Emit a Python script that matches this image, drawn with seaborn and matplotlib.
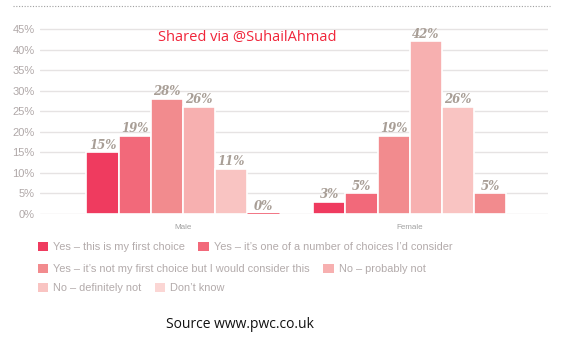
import matplotlib
matplotlib.use("Agg")
import matplotlib.pyplot as plt
import seaborn as sns
import pandas as pd
from matplotlib.patches import Patch
from matplotlib.lines import Line2D

categories = ["Male", "Female"]
responses = [
    "Yes \u2013 this is my first choice",
    "Yes \u2013 it\u2019s one of a number of choices I\u2019d consider",
    "Yes \u2013 it\u2019s not my first choice but I would consider this",
    "No \u2013 probably not",
    "No \u2013 definitely not",
    "Don\u2019t know",
]
male_values = [15, 19, 28, 26, 11, 0]
female_values = [3, 5, 19, 42, 26, 5]
colors = ["#ef3b5f", "#f2697a", "#f28b8e", "#f7b0b0", "#f9c4c2", "#fbd6d4"]
yticks = [0, 5, 10, 15, 20, 25, 30, 35, 40, 45]

df = pd.DataFrame({
    "sex": [c for c in categories for _ in responses],
    "response": responses * 2,
    "value": male_values + female_values,
})

sns.set_theme(style="white")
plt.rcParams["font.family"] = ["Liberation Sans", "DejaVu Sans"]

fig = plt.figure(figsize=(5.78, 3.48), dpi=100)
ax = fig.add_axes([40 / 578, (348 - 214) / 348, 508 / 578, (46 * 4.11) / 348])

sns.barplot(data=df, x="sex", y="value", hue="response", order=categories,
            hue_order=responses, palette=colors, saturation=1, width=0.85, ax=ax,
            edgecolor="white", linewidth=1.2, legend=False, zorder=3)

# per-bar colour tweaks seen in reference (Don't know bars)
dk = ax.containers[5]
for p in dk.patches:
    p.set_facecolor(colors[2])
dk.patches[0].set_edgecolor(colors[1])
dk.patches[0].set_linewidth(2)
dk.patches[0].set_zorder(5)

for i, cont in enumerate(ax.containers):
    vals = [male_values[i], female_values[i]]
    ax.bar_label(cont, labels=[f"{v}%" for v in vals], padding=0.5,
                 fontsize=8.5, fontweight="bold", fontstyle="italic",
                 family="DejaVu Serif", color="#a89e96")

ax.set_ylim(0, 46)
ax.set_xlim(-0.63, 1.61)
ax.set_yticks(yticks)
ax.set_yticklabels([f"{t}%" for t in yticks], color="#b0a8a8", fontsize=8)
ax.tick_params(axis="y", length=0, pad=4)
ax.tick_params(axis="x", length=0, pad=7, labelsize=5.8, labelcolor="#a0a0a0")
ax.set_xlabel("")
ax.set_ylabel("")
for s in ax.spines.values():
    s.set_visible(False)
ax.yaxis.grid(True, color="#e6e3e3", linewidth=1, zorder=0)
ax.set_axisbelow(True)

# top dotted rule
fig.add_artist(Line2D([13 / 578, 550 / 578], [1 - 6 / 348, 1 - 6 / 348],
                      color="#a0a0a0", linestyle=(0, (1, 1.5)), linewidth=0.8))

fig.text(158 / 578, 1 - 37 / 348, "Shared via @SuhailAhmad", color="#f0253a",
         fontsize=10.5, family=["Open Sans", "DejaVu Sans"], va="center", ha="left")

rows = [([0, 1], 247), ([2, 3], 269), ([4, 5], 288)]
for idx, y in rows:
    handles = [Patch(facecolor=colors[i], edgecolor="none", label=responses[i]) for i in idx]
    fig.legend(handles=handles, loc="center left",
               bbox_to_anchor=(38 / 578, 1 - y / 348), ncol=2, frameon=False,
               fontsize=7.9, handlelength=0.95, handleheight=0.95, handletextpad=0.45,
               columnspacing=1.2, labelcolor="#b3abab", borderaxespad=0, borderpad=0)

fig.text(240 / 578, 1 - 325 / 348, "Source www.pwc.co.uk", color="#111111",
         fontsize=10, family=["Open Sans", "DejaVu Sans"], va="center", ha="center")

fig.savefig("out.png", dpi=100)
